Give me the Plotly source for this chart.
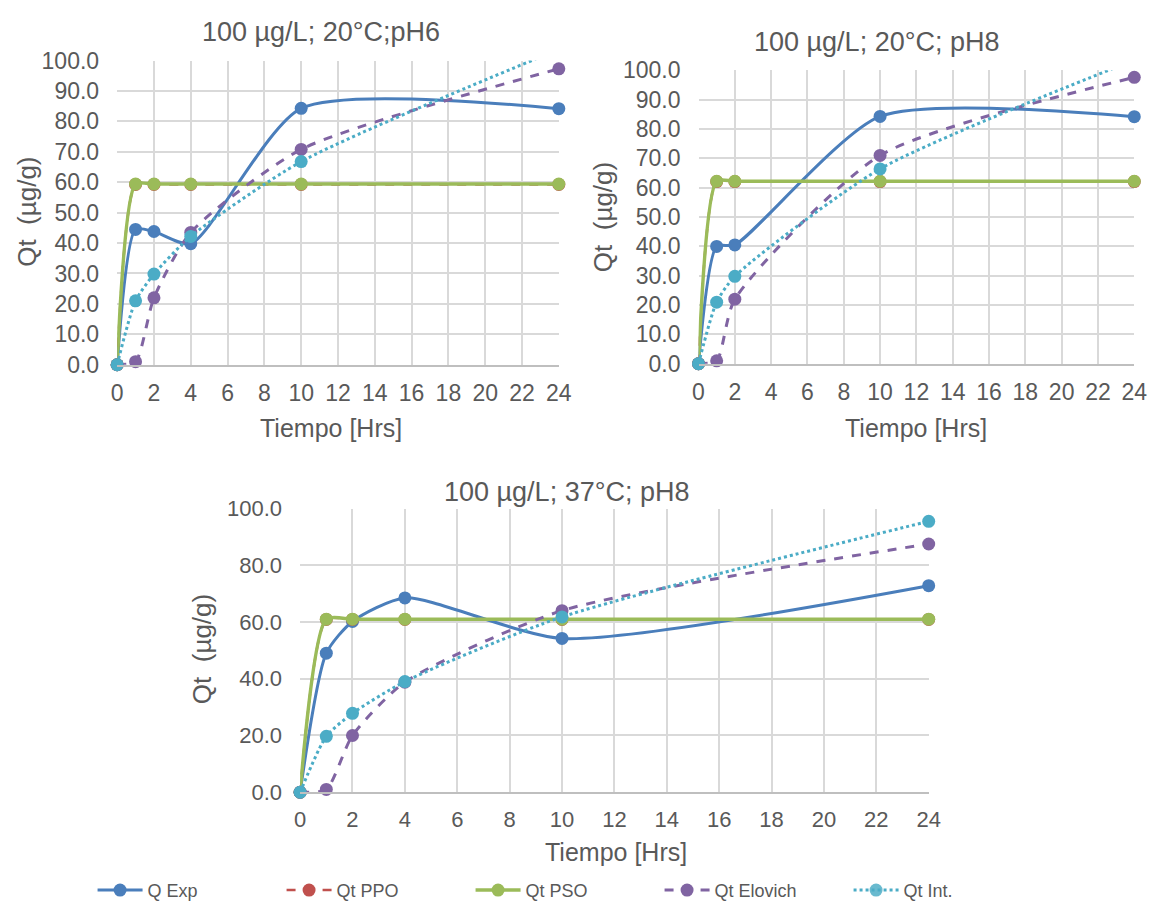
import plotly.graph_objects as go

# Sampling times (hours)
t_a = [0, 1, 2, 4, 10, 24]
t_b = [0, 1, 2, 10, 24]
t_c = [0, 1, 2, 4, 10, 24]

# Panel A: 100 µg/L; 20°C; pH6
a_exp = [0, 44.5, 43.8, 39.8, 84.3, 84.2]
a_ppo = [0, 59.3, 59.3, 59.3, 59.3, 59.3]
a_pso = [0, 59.4, 59.4, 59.4, 59.4, 59.4]
a_elo = [0, 1.0, 22.0, 43.5, 70.8, 97.3]
a_int = [0, 21.0, 29.8, 42.2, 66.8, 103.7]

# Panel B: 100 µg/L; 20°C; pH8
b_exp = [0, 40.0, 40.5, 84.3, 84.2]
b_ppo = [0, 62.1, 62.1, 62.1, 62.1]
b_pso = [0, 62.2, 62.2, 62.2, 62.2]
b_elo = [0, 1.0, 22.0, 71.0, 97.6]
b_int = [0, 21.0, 29.8, 66.4, 103.5]

# Panel C: 100 µg/L; 37°C; pH8
c_exp = [0, 49.0, 60.2, 68.5, 54.2, 72.8]
c_ppo = [0, 60.9, 60.9, 60.9, 60.9, 60.9]
c_pso = [0, 61.0, 61.0, 61.0, 61.0, 61.0]
c_elo = [0, 1.0, 20.0, 38.8, 64.0, 87.5]
c_int = [0, 19.7, 27.8, 39.0, 61.8, 95.5]

titles = ["100 µg/L; 20°C;pH6", "100 µg/L; 20°C; pH8", "100 µg/L; 37°C; pH8"]
names = ["Q Exp", "Qt PPO", "Qt PSO", "Qt Elovich", "Qt Int."]
colors = ["#4a7ebb", "#c0504d", "#9bbb59", "#8064a2", "#4bacc6"]
dashes = ["solid", "dash", "solid", "dash", "dot"]
widths = [3, 2.5, 3.5, 3, 3]

W, H = 1164, 916
FONT = "Liberation Sans, Arial, sans-serif"
TXT = "#595959"

# plot areas in pixels: left, right, top, bottom
boxes = [(113, 562, 49, 362), (704, 1147, 59, 361), (299, 938, 510, 802)]
ydticks = [10, 10, 20]
tick_sizes = [23, 23, 22]

# label positions in pixels: title (x, y), x-title (x, y), y-title (x, y)
label_pos = [
    ((320, 20), (330, 427), (22, 205)),
    ((885, 30), (925, 427), (607, 210)),
    ((570, 493), (620, 863), (200, 655)),
]

panels = [
    (t_a, [a_exp, a_ppo, a_pso, a_elo, a_int]),
    (t_b, [b_exp, b_ppo, b_pso, b_elo, b_int]),
    (t_c, [c_exp, c_ppo, c_pso, c_elo, c_int]),
]

fig = go.Figure()
ax_layout = {}
annotations = []


def note(text, px, py, size, angle=0):
    return dict(text=text, x=px / W, y=1 - py / H, xref="paper", yref="paper",
                xanchor="center", yanchor="middle", showarrow=False,
                textangle=angle, font=dict(family=FONT, size=size, color=TXT))


for i, ((t, series), (l, r, tp, bt)) in enumerate(zip(panels, boxes)):
    sfx = "" if i == 0 else str(i + 1)
    xa, ya = "x" + sfx, "y" + sfx
    for k, ys in enumerate(series):
        fig.add_trace(go.Scatter(
            x=t, y=ys, xaxis=xa, yaxis=ya,
            name=names[k], legendgroup=names[k], showlegend=(i == 0),
            mode="lines+markers",
            line=dict(color=colors[k], width=widths[k], dash=dashes[k],
                      shape="spline", smoothing=0.65),
            marker=dict(color=colors[k], size=13,
                        opacity=[1 if v <= 100 else 0 for v in ys]),
            cliponaxis=False,
        ))
    ax_layout["xaxis" + sfx] = dict(
        domain=[l / W, r / W], anchor=ya, range=[0, 24], dtick=2, tick0=0,
        showgrid=True, gridcolor="#d9d9d9", gridwidth=1.5, zeroline=False,
        showline=True, linecolor="#bfbfbf", linewidth=1.5,
        ticks="", ticklabelstandoff=7,
        tickfont=dict(family=FONT, size=tick_sizes[i], color=TXT),
        fixedrange=True,
    )
    ax_layout["yaxis" + sfx] = dict(
        domain=[1 - bt / H, 1 - tp / H], anchor=xa, range=[0, 100],
        dtick=ydticks[i], tick0=0, tickformat=".1f",
        showgrid=True, gridcolor="#d9d9d9", gridwidth=1.5, zeroline=False,
        showline=False, ticks="", ticklabelstandoff=17,
        tickfont=dict(family=FONT, size=tick_sizes[i], color=TXT),
        fixedrange=True,
    )
    (tx, ty), (xx, xy), (yx, yy) = label_pos[i]
    annotations.append(note(titles[i], tx, ty, 27))
    annotations.append(note("Tiempo [Hrs]", xx, xy, 25))
    annotations.append(note("Qt  (µg/g)", yx, yy, 26, angle=-90))

fig.update_layout(
    width=W, height=H, autosize=False,
    margin=dict(l=0, r=0, t=0, b=0),
    paper_bgcolor="white", plot_bgcolor="white",
    annotations=annotations,
    legend=dict(
        orientation="h", x=88 / W, xanchor="left", y=1 - 903 / H, yanchor="middle",
        entrywidth=129, entrywidthmode="pixels", itemwidth=45,
        font=dict(family=FONT, size=18, color=TXT),
        bgcolor="rgba(0,0,0,0)", tracegroupgap=0,
    ),
    **ax_layout,
)

fig.write_html("out.html")
